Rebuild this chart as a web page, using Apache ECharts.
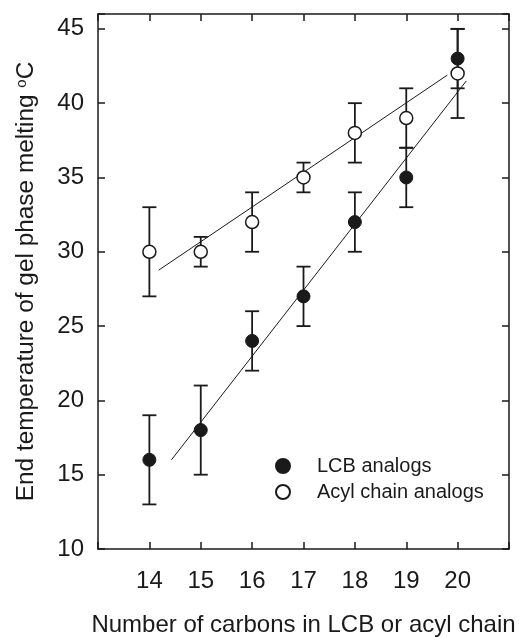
<!DOCTYPE html>
<html>
<head>
<meta charset="utf-8">
<script src="https://cdn.jsdelivr.net/npm/echarts@6/dist/echarts.min.js"></script>
<style>
html,body{margin:0;padding:0;background:#fff;}
#c{width:519px;height:638px;}
</style>
</head>
<body>
<div id="c"></div>
<script>
// ---- data ----
var carbons = [14, 15, 16, 17, 18, 19, 20];
var lcbValues = [16, 18, 24, 27, 32, 35, 43];
var lcbErrors = [3, 3, 2, 2, 2, 2, 2];
var acylValues = [30, 30, 32, 35, 38, 39, 42];
var acylErrors = [3, 1, 2, 1, 2, 2, 3];
var lcbFit = [[14.43, 16.0], [20.17, 41.5]];
var acylFit = [[14.18, 28.76], [19.8, 41.89]];
var xTicks = [14, 15, 16, 17, 18, 19, 20];
var yTicks = [10, 15, 20, 25, 30, 35, 40, 45];
var seriesNames = ['LCB analogs', 'Acyl chain analogs'];

var FONT = 'Liberation Sans, Arial, Helvetica, sans-serif';
var INK = '#1a1a1a';

function pts(vals) { return carbons.map(function (c, i) { return [c, vals[i]]; }); }
function errs(vals, e) { return carbons.map(function (c, i) { return [c, vals[i] - e[i], vals[i] + e[i]]; }); }

function errRender(params, api) {
  var x = api.value(0), lo = api.value(1), hi = api.value(2);
  var pLo = api.coord([x, lo]), pHi = api.coord([x, hi]);
  var hw = 7;
  var st = { stroke: INK, lineWidth: 1.8, fill: null };
  return {
    type: 'group',
    children: [
      { type: 'line', shape: { x1: pLo[0], y1: pLo[1], x2: pHi[0], y2: pHi[1] }, style: st },
      { type: 'line', shape: { x1: pLo[0] - hw, y1: pLo[1], x2: pLo[0] + hw, y2: pLo[1] }, style: st },
      { type: 'line', shape: { x1: pHi[0] - hw, y1: pHi[1], x2: pHi[0] + hw, y2: pHi[1] }, style: st }
    ]
  };
}

var axisLine = { show: true, lineStyle: { color: INK, width: 1.5 } };
var axisTick = { show: true, inside: true, length: 7, lineStyle: { color: INK, width: 1.5 } };

var chart = echarts.init(document.getElementById('c'), null, { renderer: 'canvas' });
chart.setOption({
  animation: false,
  backgroundColor: '#fff',
  textStyle: { fontFamily: FONT },
  grid: { left: 98, right: 10, top: 14, bottom: 89, containLabel: false, outerBoundsMode: 'none' },
  legend: {
    data: seriesNames,
    orient: 'vertical',
    left: 270,
    top: 451,
    itemWidth: 14,
    itemHeight: 14,
    itemGap: 6,
    icon: 'circle',
    textStyle: { fontSize: 20, color: INK, fontFamily: FONT, lineHeight: 20, padding: [0, 0, 0, 22] }
  },
  xAxis: [{
    type: 'value', min: 13, max: 21, interval: 1,
    axisLine: axisLine, axisTick: axisTick, splitLine: { show: false },
    axisLabel: {
      margin: 20, fontSize: 24, color: INK, fontFamily: FONT,
      formatter: function (v) { return xTicks.indexOf(v) >= 0 ? String(v) : ''; }
    },
    name: 'Number of carbons in LCB or acyl chain',
    nameLocation: 'middle', nameGap: 64,
    nameTextStyle: { fontSize: 24, color: INK, fontFamily: FONT }
  }, {
    type: 'value', position: 'top', min: 13, max: 21, interval: 1,
    axisLine: axisLine, axisTick: axisTick, splitLine: { show: false },
    axisLabel: { show: false }
  }],
  yAxis: [{
    type: 'value', min: 10, max: 46, interval: 5,
    axisLine: axisLine, axisTick: axisTick, splitLine: { show: false },
    axisLabel: {
      margin: 14, fontSize: 24, color: INK, fontFamily: FONT,
      formatter: function (v) { return yTicks.indexOf(v) >= 0 ? String(v) : ''; }
    },
    name: '{a|End temperature of gel phase melting }{s|o}{a|C}',
    nameLocation: 'middle', nameGap: 60,
    nameTextStyle: {
      color: INK, fontFamily: FONT,
      rich: {
        a: { fontSize: 24.4, color: INK, fontFamily: FONT },
        s: { fontSize: 15, color: INK, fontFamily: FONT, verticalAlign: 'top' }
      }
    }
  }, {
    type: 'value', position: 'right', min: 10, max: 46, interval: 5,
    axisLine: axisLine, axisTick: axisTick, splitLine: { show: false },
    axisLabel: { show: false }
  }],
  series: [
    { type: 'custom', name: 'lcbErr', renderItem: errRender, data: errs(lcbValues, lcbErrors), z: 2, silent: true },
    { type: 'custom', name: 'acylErr', renderItem: errRender, data: errs(acylValues, acylErrors), z: 2, silent: true },
    { type: 'line', name: 'lcbFit', data: lcbFit, showSymbol: false, lineStyle: { color: INK, width: 1 }, z: 3, silent: true },
    { type: 'line', name: 'acylFit', data: acylFit, showSymbol: false, lineStyle: { color: INK, width: 1 }, z: 3, silent: true },
    {
      type: 'scatter', name: seriesNames[0], data: pts(lcbValues), symbol: 'circle', symbolSize: 13,
      itemStyle: { color: INK, borderColor: INK, borderWidth: 1, opacity: 1 }, z: 5
    },
    {
      type: 'scatter', name: seriesNames[1], data: pts(acylValues), symbol: 'circle', symbolSize: 13,
      itemStyle: { color: '#fff', borderColor: INK, borderWidth: 1.5, opacity: 1 }, z: 6
    }
  ]
});
</script>
</body>
</html>
